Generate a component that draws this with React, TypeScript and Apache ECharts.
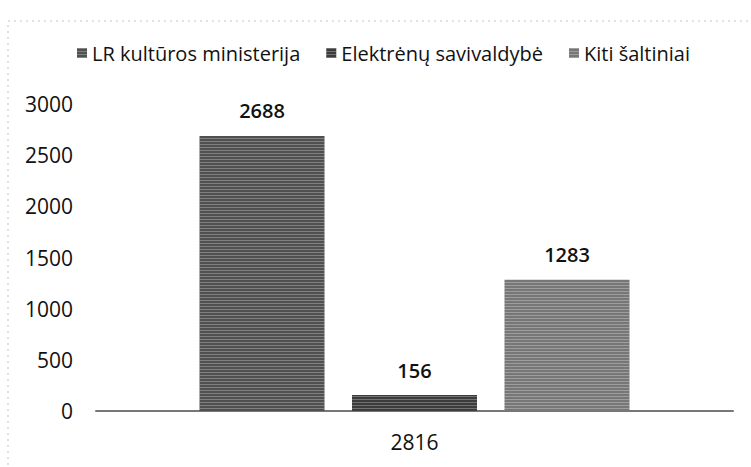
import React, { useEffect, useRef } from "react";
import * as echarts from "echarts";

const categories = ["2816"];
const seriesNames = ["LR kultūros ministerija", "Elektrėnų savivaldybė", "Kiti šaltiniai"];
const seriesValues = [[2688], [156], [1283]];
const seriesColors = ["#505050", "#3c3c3c", "#777777"];
const yTicks = { min: 0, max: 3000, interval: 500 };

const FONT = "'Open Sans', sans-serif";

export default function App() {
  const ref = useRef<HTMLDivElement>(null);
  useEffect(() => {
    if (!ref.current) return;
    const chart = echarts.init(ref.current, null, { renderer: "svg" });
    chart.setOption({
      animation: false,
      backgroundColor: "#ffffff",
      textStyle: { fontFamily: FONT },
      graphic: [
        {
          type: "rect",
          shape: { x: 8, y: 21, width: 900, height: 600 },
          style: { fill: "none", stroke: "#c4c4c4", lineWidth: 1, lineDash: [2, 4] },
          silent: true,
        },
      ],
      legend: {
        left: 72,
        top: 38,
        itemWidth: 10,
        itemHeight: 10,
        itemGap: 26,
        icon: "rect",
        textStyle: { fontFamily: FONT, fontSize: 20, color: "#111" },
        data: seriesNames,
      },
      grid: { left: 96, right: 18, top: 104, bottom: 56, containLabel: false },
      xAxis: {
        type: "category",
        data: categories,
        axisLine: { show: true, lineStyle: { color: "#777", width: 2 } },
        axisTick: { show: false },
        axisLabel: { fontFamily: FONT, fontSize: 21, color: "#111", margin: 20 },
      },
      yAxis: {
        type: "value",
        min: yTicks.min,
        max: yTicks.max,
        interval: yTicks.interval,
        axisLine: { show: false },
        axisTick: { show: false },
        splitLine: { show: false },
        axisLabel: {
          fontFamily: FONT,
          fontSize: 21,
          color: "#111",
          margin: 23,
          formatter: (v: number) => String(v),
        },
      },
      series: seriesNames.map((name, i) => ({
        name,
        type: "bar",
        data: seriesValues[i],
        barWidth: 125,
        barGap: "22%",
        itemStyle: {
          color: seriesColors[i],
          decal: {
            symbol: "rect",
            color: "rgba(255,255,255,0.28)",
            dashArrayX: [1, 0],
            dashArrayY: [1, 2],
            rotation: 0,
          },
        },
        label: {
          show: true,
          position: "top",
          distance: 15,
          fontFamily: FONT,
          fontSize: 20,
          fontWeight: 600,
          color: "#111",
        },
      })),
    });
    return () => chart.dispose();
  }, []);
  return (
    <div
      ref={ref}
      style={{ position: "fixed", left: 0, top: 0, width: 751, height: 467 }}
    />
  );
}
